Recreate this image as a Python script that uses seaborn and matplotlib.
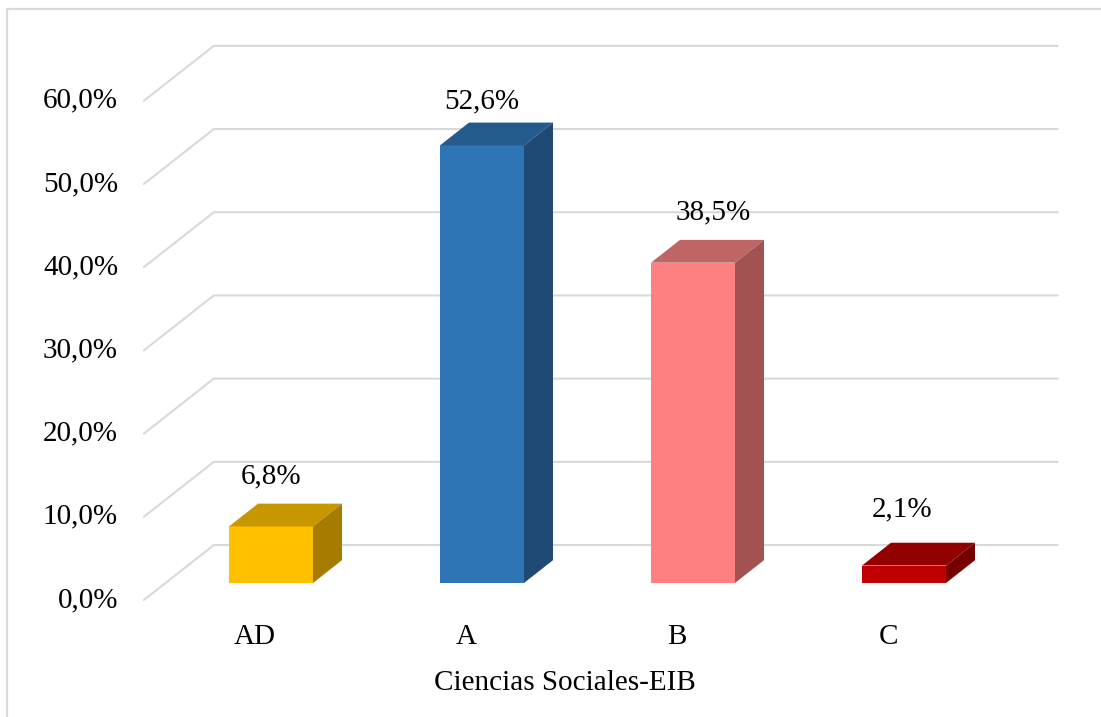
import numpy as np
import pandas as pd
import seaborn as sns
import matplotlib.pyplot as plt
from matplotlib.transforms import ScaledTranslation
from matplotlib.patches import Polygon
from matplotlib.lines import Line2D

# ---- data -------------------------------------------------------------
categories = ["AD", "A", "B", "C"]
values = [6.8, 52.6, 38.5, 2.1]
yticks = [0, 10, 20, 30, 40, 50, 60]
xlabel = "Ciencias Sociales-EIB"

# ---- styling ----------------------------------------------------------
front_colors = ["#FFC000", "#2E75B6", "#FF8080", "#C00000"]
top_colors = ["#C89700", "#245A8C", "#C06565", "#920000"]
side_colors = ["#A67C00", "#1F4A75", "#A35252", "#760000"]
label_dx = [0, 0, 20, -2]         # manual nudges of the value labels (px)
label_dy = [50, 44, 50, 56]
grid_color = "#D9D9D9"

W, H, DPI = 1101, 717, 100
FLOOR_DX, FLOOR_DY = 70.0, 55.0   # oblique depth of the floor (px)
BAR_T0 = 0.31                     # depth fraction where bar fronts sit
BAR_DX, BAR_DY = 29.0, 22.8       # depth of each bar (px)

sns.set_theme(style="white")
plt.rcParams["font.family"] = ["Liberation Serif", "DejaVu Serif"]
FS = 21

fig = plt.figure(figsize=(W / DPI, H / DPI), dpi=DPI)
fig.patch.set_facecolor("white")

# axes frame = plane of the bar fronts
ax = fig.add_axes([165.5 / W, (H - 583) / H, 844 / W, 499.2 / H])
df = pd.DataFrame({"cat": categories, "val": values})
sns.barplot(data=df, x="cat", y="val", hue="cat", palette=front_colors,
            width=0.398, saturation=1, legend=False, ax=ax, zorder=3,
            linewidth=0)
ax.set_xlim(-0.5, 3.5)
ax.set_ylim(0, 60)
ax.set_facecolor("none")
for s in ax.spines.values():
    s.set_visible(False)
ax.grid(False)


def to_fig(x, v, dx=0.0, dy=0.0):
    d = ax.transData.transform((x, v)) + np.array([dx, dy])
    return fig.transFigure.inverted().transform(d)


front_off = (-BAR_T0 * FLOOR_DX, -BAR_T0 * FLOOR_DY)
back_off = ((1 - BAR_T0) * FLOOR_DX, (1 - BAR_T0) * FLOOR_DY)

# side wall diagonals + back wall gridlines
for v in yticks:
    p0 = to_fig(-0.5, v, *front_off)
    p1 = to_fig(-0.5, v, *back_off)
    p2 = to_fig(3.5, v, *back_off)
    ln = Line2D([p0[0], p1[0], p2[0]], [p0[1], p1[1], p2[1]],
                transform=fig.transFigure, color=grid_color, lw=1.5,
                zorder=1, clip_on=False, solid_joinstyle="miter")
    ax.add_line(ln)

# top and side faces of each bar
for i, patch in enumerate(ax.patches):
    x0 = patch.get_x()
    w = patch.get_width()
    h = patch.get_height()
    top = [to_fig(x0, h), to_fig(x0 + w, h),
           to_fig(x0 + w, h, BAR_DX, BAR_DY), to_fig(x0, h, BAR_DX, BAR_DY)]
    side = [to_fig(x0 + w, 0), to_fig(x0 + w, 0, BAR_DX, BAR_DY),
            to_fig(x0 + w, h, BAR_DX, BAR_DY), to_fig(x0 + w, h)]
    ax.add_patch(Polygon(top, closed=True, transform=fig.transFigure,
                         facecolor=top_colors[i], edgecolor="none",
                         zorder=3, clip_on=False))
    ax.add_patch(Polygon(side, closed=True, transform=fig.transFigure,
                         facecolor=side_colors[i], edgecolor="none",
                         zorder=3, clip_on=False))
    # value label
    lbl = f"{values[i]:.1f}%".replace(".", ",")
    cx = x0 + w / 2
    ax.text(cx, h, lbl, fontsize=FS, color="black", ha="center", va="center",
            transform=ax.transData + ScaledTranslation(label_dx[i] / DPI,
                                                       label_dy[i] / DPI,
                                                       fig.dpi_scale_trans),
            zorder=5, clip_on=False)

# y tick labels at the front-left corner of the floor
ax.set_yticks(yticks)
ax.set_yticklabels([f"{t:.1f}%".replace(".", ",") for t in yticks])
ax.tick_params(axis="y", length=0, pad=0, labelsize=FS, colors="black")
yshift = ScaledTranslation((front_off[0] - 25.8) / DPI, front_off[1] / DPI,
                           fig.dpi_scale_trans)
for t in ax.get_yticklabels():
    t.set_transform(t.get_transform() + yshift)
    t.set_va("center")

# category labels along the front edge
ax.tick_params(axis="x", length=0, pad=0, labelsize=FS, colors="black")
xshift = ScaledTranslation(-16 / DPI, -54 / DPI, fig.dpi_scale_trans)
for t in ax.get_xticklabels():
    t.set_transform(t.get_transform() + xshift)
    t.set_va("center")

ax.set_xlabel(xlabel, fontsize=FS, color="black")
ax.set_ylabel("")
ax.xaxis.set_label_coords((564.5 - 165.5) / 844, -(683 - 583) / 499.2)
ax.xaxis.label.set_va("center")

# chart area border (top and left edges)
fig.add_artist(Line2D([7 / W, 7 / W, 1.05], [-0.05, (H - 9.3) / H, (H - 9.3) / H],
                      transform=fig.transFigure, color=grid_color, lw=1.6,
                      solid_joinstyle="miter"))

fig.savefig("out.png", dpi=DPI, facecolor="white")
